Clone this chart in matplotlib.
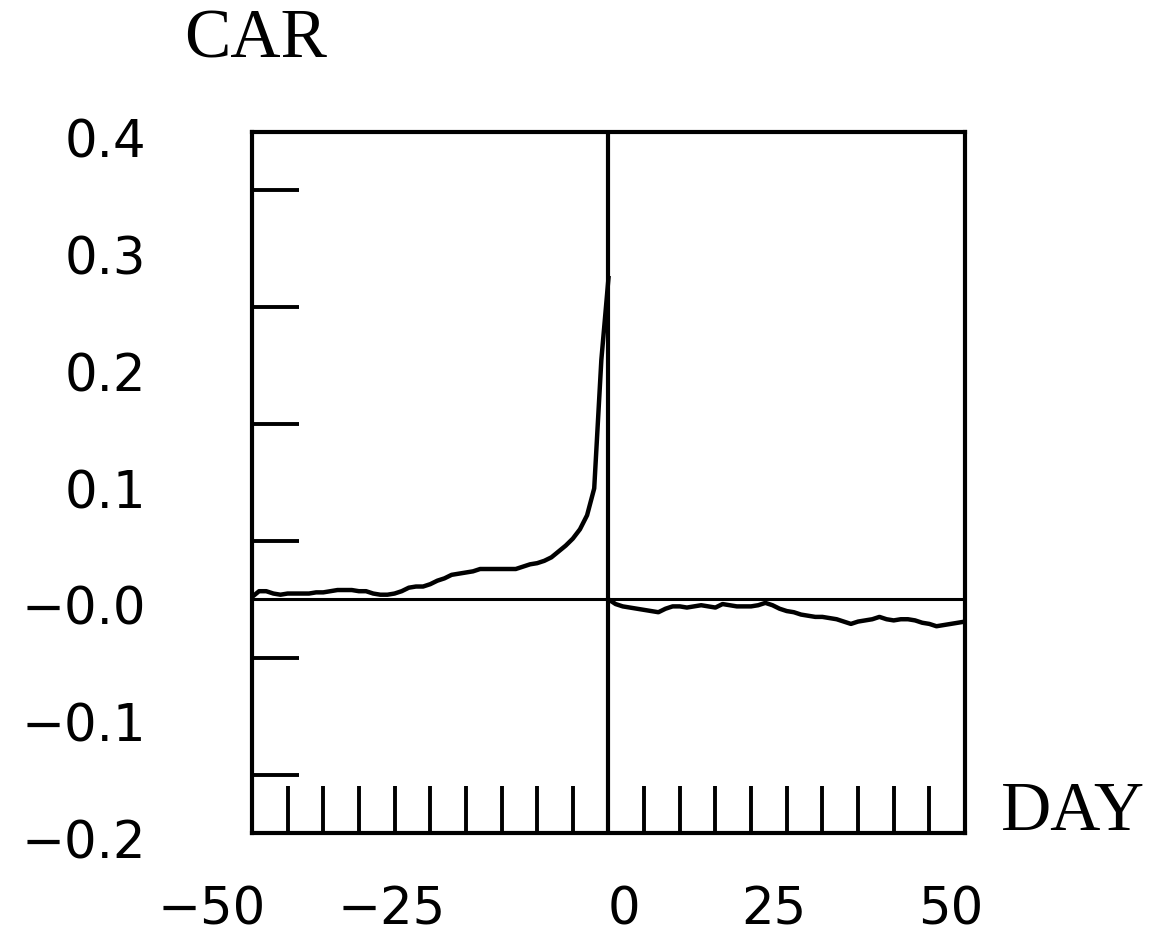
import numpy as np
import matplotlib
matplotlib.use("Agg")
import matplotlib.pyplot as plt
from matplotlib.transforms import ScaledTranslation, blended_transform_factory

# cumulative abnormal return, before the event (day -50 .. 0)
days_pre = np.arange(-50, 1)
car_pre = [0.002, 0.007, 0.007, 0.005, 0.004, 0.005, 0.005, 0.005, 0.005, 0.006,
           0.006, 0.007, 0.008, 0.008, 0.008, 0.007, 0.007, 0.005, 0.004, 0.004,
           0.005, 0.007, 0.010, 0.011, 0.011, 0.013, 0.016, 0.018, 0.021, 0.022,
           0.023, 0.024, 0.026, 0.026, 0.026, 0.026, 0.026, 0.026, 0.028, 0.030,
           0.031, 0.033, 0.036, 0.041, 0.046, 0.052, 0.060, 0.072, 0.095, 0.205,
           0.275]

# after the event (day 0 .. 50)
days_post = np.arange(0, 51)
car_post = [0.000, -0.004, -0.006, -0.007, -0.008, -0.009, -0.010, -0.011, -0.008, -0.006,
            -0.006, -0.007, -0.006, -0.005, -0.006, -0.007, -0.004, -0.005, -0.006, -0.006,
            -0.006, -0.005, -0.003, -0.005, -0.008, -0.010, -0.011, -0.013, -0.014, -0.015,
            -0.015, -0.016, -0.017, -0.019, -0.021, -0.019, -0.018, -0.017, -0.015, -0.017,
            -0.018, -0.017, -0.017, -0.018, -0.020, -0.021, -0.023, -0.022, -0.021, -0.020,
            -0.019]

ytick_vals = [0.4, 0.3, 0.2, 0.1, 0.0, -0.1, -0.2]
ytick_labels = ["0.4", "0.3", "0.2", "0.1", "\u22120.0", "\u22120.1", "\u22120.2"]
xtick_labels = ["\u221250", "\u221225", "0", "25", "50"]
# the printed day labels sit off their true positions in the original
xlabel_pos = [-55.6, -30.4, 2.2, 23.2, 48.0]

fig = plt.figure(figsize=(11.51, 9.40), dpi=100)
ax = fig.add_axes([0.2189, 0.1138, 0.6195, 0.7457])

ax.plot(days_pre, car_pre, color="black", lw=3.2, solid_joinstyle="round")
ax.plot(days_post, car_post, color="black", lw=3.2, solid_joinstyle="round")
ax.axhline(0, color="black", lw=2.2)
ax.axvline(0, color="black", lw=3.0)

ax.set_xlim(-50, 50)
ax.set_ylim(-0.2, 0.4)
for s in ax.spines.values():
    s.set_linewidth(3.0)

# inside tick marks every 5 days / every 0.05
xt = [d for d in range(-45, 50, 5) if d != 0]
yt = [v / 100 for v in range(-15, 40, 5) if v != 0]
ax.set_xticks(xt, minor=True)
ax.set_yticks(yt, minor=True)
ax.tick_params(which="minor", direction="in", length=34, width=2.8,
               top=False, right=False)
ax.set_xticks([])
ax.set_yticks(ytick_vals, ytick_labels)
ax.tick_params(axis="y", which="major", length=0, pad=76, labelsize=37)

off = ScaledTranslation(0, -0.06, fig.dpi_scale_trans)
for lab in ax.get_yticklabels():
    lab.set_transform(lab.get_transform() + off)

trans = blended_transform_factory(ax.transData, ax.transAxes)
for pos, lab in zip(xlabel_pos, xtick_labels):
    ax.text(pos, -0.11, lab, transform=trans, ha="center", va="center",
            fontsize=37)

fig.text(0.2224, 0.957, "CAR", family="Liberation Serif", fontsize=50,
         ha="center", va="center")
fig.text(0.932, 0.135, "DAY", family="Liberation Serif", fontsize=50,
         ha="center", va="center")

fig.savefig("out.png", dpi=100)
